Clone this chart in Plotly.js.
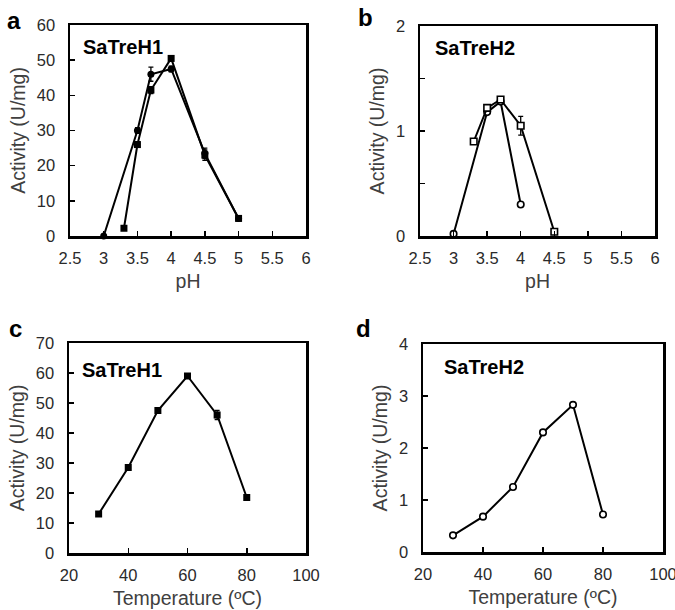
<!DOCTYPE html>
<html><head><meta charset="utf-8">
<script src="https://cdn.plot.ly/plotly-3.0.1.min.js"></script>
<style>html,body{margin:0;padding:0;background:#fff}#chart{width:675px;height:610px}</style>
</head><body><div id="chart"></div>
<script>
// Panel a: SaTreH1 pH
const a_circ_pH = [3, 3.5, 3.7, 4, 4.5, 5];
const a_circ_act = [0, 30, 46, 47.5, 23.5, 5];
const a_circ_err = [0, 0.8, 2, 0.8, 1.5, 0.5];
const a_sq_pH = [3.3, 3.5, 3.7, 4, 4.5, 5];
const a_sq_act = [2.2, 26, 41.5, 50.5, 23, 5];
const a_sq_err = [0, 0.8, 1, 0.8, 1.5, 0.5];
// Panel b: SaTreH2 pH
const b_circ_pH = [3, 3.5, 3.7, 4];
const b_circ_act = [0.02, 1.18, 1.28, 0.3];
const b_circ_err = [0, 0.02, 0.02, 0.01];
const b_sq_pH = [3.3, 3.5, 3.7, 4, 4.5];
const b_sq_act = [0.9, 1.22, 1.3, 1.05, 0.04];
const b_sq_err = [0, 0.02, 0.02, 0.09, 0.01];
// Panel c: SaTreH1 temperature
const c_temp = [30, 40, 50, 60, 70, 80];
const c_act = [13, 28.5, 47.5, 59, 46, 18.5];
const c_err = [0.5, 0.8, 0.8, 0.8, 1.5, 0.5];
// Panel d: SaTreH2 temperature
const d_temp = [30, 40, 50, 60, 70, 80];
const d_act = [0.32, 0.68, 1.25, 2.3, 2.83, 0.72];
const d_err = [0.02, 0.03, 0.03, 0.03, 0.04, 0.02];

const panelNames = ['SaTreH1', 'SaTreH2', 'SaTreH1', 'SaTreH2'];
const panelLetters = ['a', 'b', 'c', 'd'];
const pHTicks = [2.5, 3, 3.5, 4, 4.5, 5, 5.5, 6];
const pHTickText = ['2.5', '3', '3.5', '4', '4.5', '5', '5.5', '6'];
const bYTicks = [0, 0.5, 1, 1.5, 2];
const bYTickText = ['0', '', '1', '', '2'];

const W = 675, H = 610;
const px = v => v / W, py = v => 1 - v / H;

function errObj(arr) {
  return {type: 'data', array: arr, visible: true, color: '#000', thickness: 1.3, width: 2.5};
}
function tr(x, y, err, xa, ya, symbol, filled) {
  return {
    x: x, y: y, xaxis: xa, yaxis: ya, type: 'scatter', mode: 'lines+markers',
    line: {color: '#000', width: 2},
    marker: {symbol: symbol, size: filled ? 7 : 6.5, color: filled ? '#000' : '#fff',
             line: {color: '#000', width: filled ? 0 : 1.6}},
    error_y: errObj(err), showlegend: false, cliponaxis: false
  };
}
const data = [
  tr(a_circ_pH, a_circ_act, a_circ_err, 'x', 'y', 'circle', true),
  tr(a_sq_pH, a_sq_act, a_sq_err, 'x', 'y', 'square', true),
  tr(b_circ_pH, b_circ_act, b_circ_err, 'x2', 'y2', 'circle', false),
  tr(b_sq_pH, b_sq_act, b_sq_err, 'x2', 'y2', 'square', false),
  tr(c_temp, c_act, c_err, 'x3', 'y3', 'square', true),
  tr(d_temp, d_act, d_err, 'x4', 'y4', 'circle', false)
];

const tickFont = {family: 'Liberation Sans, Arial, sans-serif', size: 16.5, color: '#2a2a2a'};
const titleFont = {family: 'Liberation Sans, Arial, sans-serif', size: 19.5, color: '#404040'};
function ax(domain, range, extra, anchor, isX) {
  return Object.assign({
    domain: domain, range: range, anchor: anchor,
    showline: true, mirror: true, linecolor: '#000', linewidth: 2.5,
    ticks: 'inside', ticklen: 5, tickwidth: 1.5, tickcolor: '#000',
    showgrid: false, zeroline: false, tickfont: tickFont,
    ticklabelstandoff: isX ? 6 : 9, ticklabeloverflow: 'allow'
  }, extra);
}

const layout = {
  width: W, height: H, margin: {l: 0, r: 0, t: 0, b: 0},
  paper_bgcolor: '#fff', plot_bgcolor: '#fff', showlegend: false,
  xaxis: ax([px(70), px(306)], [2.5, 6], {tickvals: pHTicks, ticktext: pHTickText,
    title: {text: 'pH', font: titleFont, standoff: 8}}, 'y', true),
  yaxis: ax([py(236), py(25)], [0, 60], {dtick: 10, tick0: 0,
    title: {text: 'Activity (U/mg)', font: titleFont, standoff: 6}}, 'x'),
  xaxis2: ax([px(420), px(655)], [2.5, 6], {tickvals: pHTicks, ticktext: pHTickText,
    title: {text: 'pH', font: titleFont, standoff: 8}}, 'y2', true),
  yaxis2: ax([py(236), py(26)], [0, 2], {tickvals: bYTicks, ticktext: bYTickText,
    title: {text: 'Activity (U/mg)', font: titleFont, standoff: 6}}, 'x2'),
  xaxis3: ax([px(69), px(306)], [20, 100], {dtick: 20, tick0: 0,
    title: {text: 'Temperature (ºC)', font: titleFont, standoff: 8}}, 'y3', true),
  yaxis3: ax([py(553), py(343)], [0, 70], {dtick: 10, tick0: 0,
    title: {text: 'Activity (U/mg)', font: titleFont, standoff: 6}}, 'x3'),
  xaxis4: ax([px(423), px(663)], [20, 100], {dtick: 20, tick0: 0,
    title: {text: 'Temperature (ºC)', font: titleFont, standoff: 8}}, 'y4', true),
  yaxis4: ax([py(552), py(344)], [0, 4], {dtick: 1, tick0: 0,
    title: {text: 'Activity (U/mg)', font: titleFont, standoff: 6}}, 'x4'),
  annotations: []
};

const namePos = [[81, 47], [433, 48], [80, 370], [442, 367]];
const letterPos = [[14, 20], [365, 18], [15, 328], [364, 328]];
for (let i = 0; i < 4; i++) {
  layout.annotations.push({
    xref: 'paper', yref: 'paper', x: px(namePos[i][0]), y: py(namePos[i][1]),
    xanchor: 'left', yanchor: 'middle', showarrow: false, text: '<b>' + panelNames[i] + '</b>',
    font: {family: 'Liberation Sans, Arial, sans-serif', size: 20, color: '#000'}
  });
  layout.annotations.push({
    xref: 'paper', yref: 'paper', x: px(letterPos[i][0]), y: py(letterPos[i][1]),
    xanchor: 'center', yanchor: 'middle', showarrow: false, text: '<b>' + panelLetters[i] + '</b>',
    font: {family: 'Liberation Sans, Arial, sans-serif', size: 24, color: '#000'}
  });
}

Plotly.newPlot('chart', data, layout, {staticPlot: true, displayModeBar: false});
</script>
</body></html>
